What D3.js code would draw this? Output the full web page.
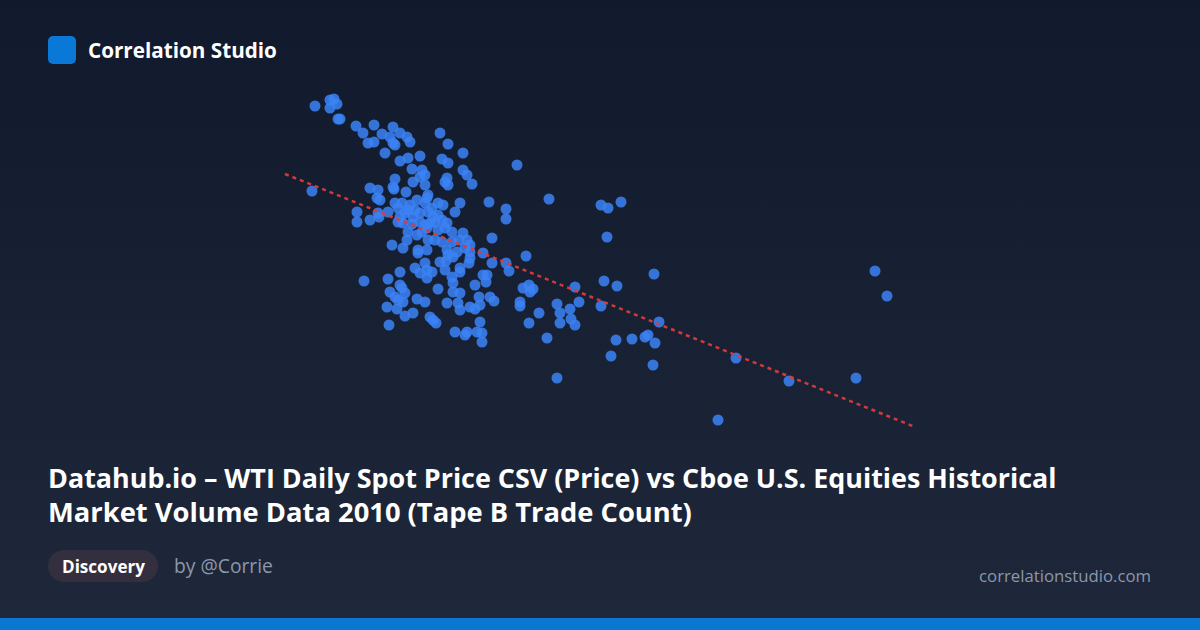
<!DOCTYPE html>
<html><head><meta charset="utf-8">
<script src="https://cdn.jsdelivr.net/npm/d3@7/dist/d3.min.js"></script>
<style>html,body{margin:0;padding:0;background:#121a2d;}svg{display:block;}</style>
</head><body>
<svg id="c" width="1200" height="630"></svg>
<script>
// WTI spot price (USD/bbl) vs Tape B trade count (thousands)
const price = [65.75,66.50,66.70,66.85,66.50,66.90,67.00,67.80,68.15,68.70,68.40,68.70,69.10,69.65,69.50,69.65,69.75,70.00,70.35,70.50,69.25,70.00,70.40,71.00,70.60,71.10,71.25,72.00,72.40,73.15,72.10,72.40,73.15,73.35,73.60,69.75,70.65,71.00,71.25,72.35,72.40,72.25,75.85,68.50,69.65,65.60,68.90,70.30,
69.00,69.75,70.10,70.40,70.25,70.00,70.85,71.35,71.25,71.90,72.15,73.00,69.40,68.90,71.00,71.40,71.65,71.90,72.75,71.00,71.25,71.50,71.75,72.10,72.35,69.90,70.40,70.85,71.35,71.90,72.25,72.60,73.15,73.35,71.40,71.75,72.10,72.60,70.35,69.60,70.15,70.90,70.90,71.35,72.35,72.85,73.25,73.50,
67.85,67.85,68.50,68.95,68.85,69.70,71.40,74.45,75.30,75.30,70.15,70.65,72.95,74.60,73.50,77.45,80.05,80.40,81.05,80.35,
72.40,72.65,73.50,73.45,74.15,71.25,72.00,72.30,70.00,71.00,71.35,71.60,71.35,73.00,73.00,74.15,74.30,74.35,72.60,72.65,69.40,68.20,70.00,70.10,73.75,71.90,72.65,73.00,69.50,69.75,69.90,70.25,70.15,69.35,69.85,70.85,71.25,72.35,72.90,73.00,73.50,73.75,73.95,74.00,74.50,74.70,70.65,70.25,71.50,71.65,71.80,69.45,74.00,72.75,73.25,73.35,73.85,74.10,74.10,
74.60,75.45,75.30,76.30,76.00,76.00,76.15,76.45,76.65,76.50,78.75,78.95,77.85,78.50,78.00,76.95,76.45,78.00,78.55,78.75,80.05,77.35,77.85,80.20,80.85,82.70,80.80,81.60,82.25,82.40,82.75,80.55,82.65,82.95,86.80,89.45,85.90,92.80,93.75,94.35,
70.50,70.75,71.60,69.90,70.60,71.10,70.75,72.25];
const tradeCount = [988,1000,1002,992,984,962,962,948,934,950,914,916,932,946,926,914,910,934,926,916,894,878,884,888,862,860,850,934,912,894,882,874,860,850,832,842,836,846,830,844,830,836,870,824,826,818,820,816,
800,794,794,780,774,766,800,804,794,794,790,794,776,774,774,776,766,770,776,756,750,754,756,760,754,756,736,730,744,740,744,736,734,720,720,720,716,716,720,710,704,700,694,700,700,696,704,696,
776,756,760,766,804,822,810,796,782,762,754,766,720,724,710,802,790,784,796,726,
690,686,684,674,694,674,676,678,656,654,660,656,644,664,656,650,636,650,646,634,642,638,630,624,630,622,616,614,616,606,600,614,596,586,582,602,596,594,594,580,586,582,606,590,606,598,574,568,566,560,554,550,556,536,530,536,536,534,516,
674,658,674,688,596,588,624,630,622,616,626,596,592,582,574,574,554,554,562,550,588,524,444,638,628,652,520,522,526,530,514,488,470,556,484,438,360,444,658,608,
790,780,784,784,752,736,664,660];
// trend line endpoints (price, trade count)
const trendPrice = [64.25, 95.75];
const trendCount = [852, 346];

const brand = "Correlation Studio";
const titleLines = ["Datahub.io – WTI Daily Spot Price CSV (Price) vs Cboe U.S. Equities Historical", "Market Volume Data 2010 (Tape B Trade Count)"];
const tag = "Discovery";
const author = "by @Corrie";
const site = "correlationstudio.com";

const svg = d3.select("#c");
const defs = svg.append("defs");
const g = defs.append("linearGradient").attr("id","bg").attr("x1",0).attr("y1",0).attr("x2",0).attr("y2",1);
g.append("stop").attr("offset","0%").attr("stop-color","#111a2d");
g.append("stop").attr("offset","100%").attr("stop-color","#1f283a");
svg.append("rect").attr("width",1200).attr("height",630).attr("fill","url(#bg)");
svg.append("rect").attr("x",0).attr("y",618).attr("width",1200).attr("height",12).attr("fill","#0a77d1");

const x = d3.scaleLinear().domain([50,110]).range([0,1200]);
const y = d3.scaleLinear().domain([0,1200]).range([600,0]);

const pts = price.map((p,i)=>({p, v: tradeCount[i]}));
svg.append("g").selectAll("circle").data(pts).join("circle")
  .attr("cx", d=>x(d.p)).attr("cy", d=>y(d.v)).attr("r", 5.5)
  .attr("fill","#3b82f6").attr("fill-opacity",0.85);

const line = d3.line().x(d=>x(d[0])).y(d=>y(d[1]));
svg.append("path").datum(trendPrice.map((p,i)=>[p,trendCount[i]]))
  .attr("d", line).attr("stroke","#dc3b3b").attr("stroke-width",2.5)
  .attr("stroke-dasharray","4,4").attr("fill","none").attr("stroke-opacity",0.95);

const FF = "'Open Sans','Noto Sans',sans-serif";
function fit(sel, w){ const n=sel.node(); const cur=n.getComputedTextLength(); const fs=parseFloat(sel.attr("font-size")); sel.attr("font-size", (fs*w/cur).toFixed(2)); }

svg.append("rect").attr("x",48).attr("y",36).attr("width",28).attr("height",28).attr("rx",5).attr("fill","#0a78d6");
fit(svg.append("text").attr("x",88).attr("y",58).attr("fill","#fff").attr("font-family",FF).attr("font-weight",700).attr("font-size",20).text(brand), 189);

titleLines.forEach((t,i)=>{
  const s = svg.append("text").attr("x",48).attr("y",488+i*34).attr("fill","#fff").attr("font-family",FF).attr("font-weight",700).attr("font-size",26).text(t);
  fit(s, i===0?1009:644);
});

svg.append("rect").attr("x",48).attr("y",550).attr("width",110).attr("height",32).attr("rx",16).attr("fill","#342f3e");
fit(svg.append("text").attr("x",62).attr("y",573).attr("fill","#fff").attr("font-family",FF).attr("font-weight",700).attr("font-size",17).text(tag), 83);
fit(svg.append("text").attr("x",174).attr("y",573).attr("fill","#8b97ab").attr("font-family",FF).attr("font-size",18).text(author), 99);
fit(svg.append("text").attr("x",1151).attr("y",582).attr("text-anchor","end").attr("fill","#8b97ab").attr("font-family",FF).attr("font-size",17).text(site), 172);
</script>
</body></html>
